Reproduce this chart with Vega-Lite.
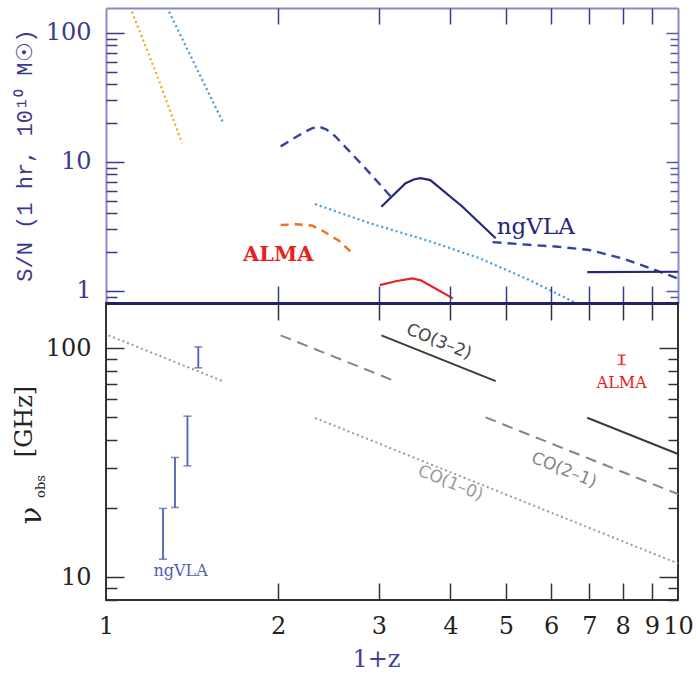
{
  "$schema": "https://vega.github.io/schema/vega-lite/v6.json",
  "background": "white",
  "padding": {"left": 10, "top": 7, "right": 16, "bottom": 2},
  "spacing": 0,
  "bounds": "flush",
  "config": {"font": "DejaVu Serif", "view": {"stroke": null}, "axis": {"grid": false, "labelOverlap": false, "labelFlush": false, "tickWidth": 1.5}},
  "datasets": {
    "top": [
      {"s": "ALMA CO(1-0)", "x": 1.11, "y": 146},
      {"s": "ALMA CO(1-0)", "x": 1.23, "y": 46},
      {"s": "ALMA CO(1-0)", "x": 1.358, "y": 14.0},
      {"s": "ngVLA CO(1-0) a", "x": 1.289, "y": 146},
      {"s": "ngVLA CO(1-0) a", "x": 1.602, "y": 20.2},
      {"s": "ngVLA CO(2-1) a", "x": 2.02, "y": 13.2},
      {"s": "ngVLA CO(2-1) a", "x": 2.204, "y": 16.7},
      {"s": "ngVLA CO(2-1) a", "x": 2.29, "y": 18.2},
      {"s": "ngVLA CO(2-1) a", "x": 2.357, "y": 18.8},
      {"s": "ngVLA CO(2-1) a", "x": 2.43, "y": 17.8},
      {"s": "ngVLA CO(2-1) a", "x": 2.52, "y": 15.7},
      {"s": "ngVLA CO(2-1) a", "x": 2.83, "y": 9.1},
      {"s": "ngVLA CO(2-1) a", "x": 3.17, "y": 5.2},
      {"s": "ngVLA CO(3-2) a", "x": 3.03, "y": 4.5},
      {"s": "ngVLA CO(3-2) a", "x": 3.34, "y": 6.84},
      {"s": "ngVLA CO(3-2) a", "x": 3.46, "y": 7.35},
      {"s": "ngVLA CO(3-2) a", "x": 3.55, "y": 7.48},
      {"s": "ngVLA CO(3-2) a", "x": 3.69, "y": 7.24},
      {"s": "ngVLA CO(3-2) a", "x": 4.2, "y": 4.5},
      {"s": "ngVLA CO(3-2) a", "x": 4.8, "y": 2.56},
      {"s": "ngVLA CO(2-1) b", "x": 4.74, "y": 2.39},
      {"s": "ngVLA CO(2-1) b", "x": 5.34, "y": 2.3},
      {"s": "ngVLA CO(2-1) b", "x": 6.11, "y": 2.21},
      {"s": "ngVLA CO(2-1) b", "x": 6.99, "y": 2.08},
      {"s": "ngVLA CO(2-1) b", "x": 7.99, "y": 1.79},
      {"s": "ngVLA CO(2-1) b", "x": 9.13, "y": 1.45},
      {"s": "ngVLA CO(2-1) b", "x": 10, "y": 1.25},
      {"s": "ngVLA CO(3-2) b", "x": 6.94, "y": 1.4},
      {"s": "ngVLA CO(3-2) b", "x": 10, "y": 1.41},
      {"s": "ngVLA CO(1-0) b", "x": 2.32, "y": 4.72},
      {"s": "ngVLA CO(1-0) b", "x": 2.88, "y": 3.37},
      {"s": "ngVLA CO(1-0) b", "x": 3.67, "y": 2.44},
      {"s": "ngVLA CO(1-0) b", "x": 4.49, "y": 1.8},
      {"s": "ngVLA CO(1-0) b", "x": 5.49, "y": 1.22},
      {"s": "ngVLA CO(1-0) b", "x": 6.62, "y": 0.81},
      {"s": "ALMA CO(2-1)", "x": 2.02, "y": 3.25},
      {"s": "ALMA CO(2-1)", "x": 2.15, "y": 3.29},
      {"s": "ALMA CO(2-1)", "x": 2.29, "y": 3.22},
      {"s": "ALMA CO(2-1)", "x": 2.4, "y": 2.9},
      {"s": "ALMA CO(2-1)", "x": 2.555, "y": 2.45},
      {"s": "ALMA CO(2-1)", "x": 2.715, "y": 1.9},
      {"s": "ALMA CO(3-2)", "x": 3.01, "y": 1.11},
      {"s": "ALMA CO(3-2)", "x": 3.21, "y": 1.19},
      {"s": "ALMA CO(3-2)", "x": 3.43, "y": 1.25},
      {"s": "ALMA CO(3-2)", "x": 3.55, "y": 1.21},
      {"s": "ALMA CO(3-2)", "x": 3.72, "y": 1.08},
      {"s": "ALMA CO(3-2)", "x": 4.04, "y": 0.877}
    ],
    "toplab": [
      {"t": "ALMA", "x": 2.0, "y": 1.9, "inst": "ALMA"},
      {"t": "ngVLA", "x": 5.64, "y": 3.15, "inst": "ngVLA"}
    ],
    "bot": [
      {"line": "CO(1-0)", "seg": "a", "x": 1.01, "y": 114.1},
      {"line": "CO(1-0)", "seg": "a", "x": 1.609, "y": 71.6},
      {"line": "CO(1-0)", "seg": "b", "x": 2.32, "y": 49.7},
      {"line": "CO(1-0)", "seg": "b", "x": 10, "y": 11.5},
      {"line": "CO(2-1)", "seg": "a", "x": 2.02, "y": 114.1},
      {"line": "CO(2-1)", "seg": "a", "x": 3.21, "y": 71.8},
      {"line": "CO(2-1)", "seg": "b", "x": 4.61, "y": 50.0},
      {"line": "CO(2-1)", "seg": "b", "x": 10, "y": 23.1},
      {"line": "CO(3-2)", "seg": "a", "x": 3.03, "y": 114.1},
      {"line": "CO(3-2)", "seg": "a", "x": 4.8, "y": 72.0},
      {"line": "CO(3-2)", "seg": "b", "x": 6.94, "y": 49.8},
      {"line": "CO(3-2)", "seg": "b", "x": 10, "y": 34.6}
    ],
    "bars": [
      {"inst": "ngVLA", "x": 1.258, "lo": 12.0, "hi": 20.0},
      {"inst": "ngVLA", "x": 1.32, "lo": 20.2, "hi": 33.4},
      {"inst": "ngVLA", "x": 1.388, "lo": 30.7, "hi": 50.6},
      {"inst": "ngVLA", "x": 1.45, "lo": 82.3, "hi": 101.6},
      {"inst": "ALMA", "x": 7.97, "lo": 85.1, "hi": 93.5}
    ],
    "colab": [
      {"t": "CO(3–2)", "line": "CO(3-2)", "x": 3.82, "y": 106.9},
      {"t": "CO(2–1)", "line": "CO(2-1)", "x": 6.32, "y": 29.4},
      {"t": "CO(1–0)", "line": "CO(1-0)", "x": 4.0, "y": 25.8}
    ],
    "bandlab": [
      {"t": "ngVLA", "inst": "ngVLA", "x": 1.35, "y": 10.65},
      {"t": "ALMA", "inst": "ALMA", "x": 7.97, "y": 71}
    ]
  },
  "vconcat": [
    {
      "width": 572,
      "height": 295,
      "layer": [
        {
          "data": {"name": "top"},
          "transform": [{"filter": "datum.s == 'ngVLA CO(2-1) a' || datum.s == 'ngVLA CO(2-1) b'"}],
          "mark": {"type": "line", "strokeWidth": 2.4, "color": "#3344a0", "strokeDash": [9, 6]},
          "encoding": {
            "x": {"field": "x", "type": "quantitative", "scale": {"type": "log", "domain": [1, 10], "nice": false},
              "axis": {"orient": "top", "values": [2, 3, 4, 5, 6, 7, 8, 9], "labels": false, "domain": false, "ticks": true, "tickSize": 16, "offset": -16, "tickColor": "#3b3b8a", "zindex": 1, "title": null}},
            "y": {"field": "y", "type": "quantitative", "scale": {"type": "log", "domain": [0.807, 156], "nice": false},
              "axis": {"orient": "left", "values": [1, 10, 100], "ticks": false, "domain": true, "domainColor": "#8a8ac4", "domainWidth": 2, "labelPadding": 15, "labelFont": "DejaVu Serif", "labelFontSize": 24, "labelColor": "#3b3b8a",
                "title": "S/N (1 hr, 10¹⁰ M☉)", "titleFont": "Liberation Mono", "titleFontSize": 22, "titleFontWeight": "normal", "titleColor": "#3b3b8a", "titleX": -82, "titleY": 147, "titleBaseline": "middle"}},
            "detail": {"field": "s"}
          }
        },
        {
          "data": {"name": "top"},
          "transform": [{"filter": "datum.s == 'ngVLA CO(3-2) a' || datum.s == 'ngVLA CO(3-2) b'"}],
          "mark": {"type": "line", "strokeWidth": 2.2, "color": "#26267a"},
          "encoding": {
            "x": {"field": "x", "type": "quantitative",
              "axis": {"orient": "bottom", "values": [2, 3, 4, 5, 6, 7, 8, 9], "labels": false, "domain": false, "ticks": true, "tickSize": 17, "offset": -17, "tickColor": "#3b3b8a", "zindex": 1, "title": null}},
            "y": {"field": "y", "type": "quantitative",
              "axis": {"orient": "left", "values": [1, 10, 100], "labels": false, "domain": false, "ticks": true, "tickSize": 18, "offset": -18, "tickColor": "#3b3b8a", "zindex": 1, "title": null}},
            "detail": {"field": "s"}
          }
        },
        {
          "data": {"name": "top"},
          "transform": [{"filter": "datum.s == 'ngVLA CO(1-0) a' || datum.s == 'ngVLA CO(1-0) b'"}],
          "mark": {"type": "line", "strokeWidth": 2.2, "color": "#4499dd", "strokeDash": [2, 3]},
          "encoding": {
            "x": {"field": "x", "type": "quantitative",
              "axis": {"orient": "top", "ticks": false, "labels": false, "domain": true, "domainColor": "#8a8ac4", "domainWidth": 2, "title": null}},
            "y": {"field": "y", "type": "quantitative",
              "axis": {"orient": "left", "values": [0.9, 2, 3, 4, 5, 6, 7, 8, 9, 20, 30, 40, 50, 60, 70, 80, 90], "labels": false, "domain": false, "ticks": true, "tickSize": 11, "offset": -11, "tickColor": "#3b3b8a", "zindex": 1, "title": null}},
            "detail": {"field": "s"}
          }
        },
        {
          "data": {"name": "top"},
          "transform": [{"filter": "datum.s == 'ALMA CO(1-0)'"}],
          "mark": {"type": "line", "strokeWidth": 2.2, "color": "#f5a623", "strokeDash": [2, 3]},
          "encoding": {
            "x": {"field": "x", "type": "quantitative", "axis": null},
            "y": {"field": "y", "type": "quantitative",
              "axis": {"orient": "right", "values": [1, 10, 100], "labels": false, "domain": false, "ticks": true, "tickSize": 12, "offset": -12, "tickColor": "#5a5aa4", "zindex": 1, "title": null}}
          }
        },
        {
          "data": {"name": "top"},
          "transform": [{"filter": "datum.s == 'ALMA CO(2-1)'"}],
          "mark": {"type": "line", "strokeWidth": 2.4, "color": "#f07020", "strokeDash": [8, 6]},
          "encoding": {
            "x": {"field": "x", "type": "quantitative", "axis": null},
            "y": {"field": "y", "type": "quantitative",
              "axis": {"orient": "right", "values": [0.9, 2, 3, 4, 5, 6, 7, 8, 9, 20, 30, 40, 50, 60, 70, 80, 90], "labels": false, "domain": false, "ticks": true, "tickSize": 8, "offset": -8, "tickColor": "#5a5aa4", "zindex": 1, "title": null}}
          }
        },
        {
          "data": {"name": "top"},
          "transform": [{"filter": "datum.s == 'ALMA CO(3-2)'"}],
          "mark": {"type": "line", "strokeWidth": 2.2, "color": "#ee2020"},
          "encoding": {
            "x": {"field": "x", "type": "quantitative", "axis": null},
            "y": {"field": "y", "type": "quantitative",
              "axis": {"orient": "right", "ticks": false, "labels": false, "domain": true, "domainColor": "#8a8ac4", "domainWidth": 2, "title": null}}
          }
        },
        {
          "data": {"name": "toplab"},
          "transform": [{"filter": "datum.inst == 'ALMA'"}],
          "mark": {"type": "text", "font": "DejaVu Serif", "fontWeight": "bold", "fontSize": 21, "color": "#e82020", "align": "center", "baseline": "middle"},
          "encoding": {
            "x": {"field": "x", "type": "quantitative", "axis": null},
            "y": {"field": "y", "type": "quantitative", "axis": null},
            "text": {"field": "t"}
          }
        },
        {
          "data": {"name": "toplab"},
          "transform": [{"filter": "datum.inst == 'ngVLA'"}],
          "mark": {"type": "text", "font": "DejaVu Serif", "fontSize": 23, "color": "#26267a", "align": "center", "baseline": "middle"},
          "encoding": {
            "x": {"field": "x", "type": "quantitative", "axis": null},
            "y": {"field": "y", "type": "quantitative", "axis": null},
            "text": {"field": "t"}
          }
        }
      ],
      "resolve": {"axis": {"x": "independent", "y": "independent"}}
    },
    {
      "width": 572,
      "height": 297,
      "view": {"stroke": "#333333", "strokeWidth": 2},
      "layer": [
        {
          "data": {"name": "bot"},
          "transform": [{"filter": "datum.line == 'CO(1-0)'"}],
          "mark": {"type": "line", "strokeWidth": 2, "color": "#9a9a9a", "strokeDash": [2, 3]},
          "encoding": {
            "x": {"field": "x", "type": "quantitative", "scale": {"type": "log", "domain": [1, 10], "nice": false},
              "axis": {"orient": "bottom", "values": [1, 2, 3, 4, 5, 6, 7, 8, 9, 10], "ticks": false, "domain": false, "labelPadding": 14, "labelFont": "DejaVu Serif", "labelFontSize": 24, "labelColor": "#222222",
                "title": "1+z", "titleFont": "DejaVu Serif", "titleFontSize": 24, "titleFontWeight": "normal", "titleColor": "#4040a0", "titleX": 270, "titlePadding": 9}},
            "y": {"field": "y", "type": "quantitative", "scale": {"type": "log", "domain": [7.96, 158], "nice": false},
              "axis": {"orient": "left", "values": [10, 100], "ticks": false, "domain": false, "labelPadding": 15, "labelFont": "DejaVu Serif", "labelFontSize": 24, "labelColor": "#222222",
                "title": "[GHz]", "titleFont": "DejaVu Serif", "titleFontSize": 24, "titleFontWeight": "normal", "titleColor": "#222222", "titleX": -82, "titleY": 118, "titleBaseline": "middle"}},
            "detail": {"field": "seg"}
          }
        },
        {
          "data": {"name": "bot"},
          "transform": [{"filter": "datum.line == 'CO(2-1)'"}],
          "mark": {"type": "line", "strokeWidth": 2, "color": "#858585", "strokeDash": [11, 7]},
          "encoding": {
            "x": {"field": "x", "type": "quantitative",
              "axis": {"orient": "bottom", "values": [2, 3, 4, 5, 6, 7, 8, 9], "labels": false, "domain": false, "ticks": true, "tickSize": 17, "offset": -17, "tickColor": "#333333", "zindex": 1, "title": null}},
            "y": {"field": "y", "type": "quantitative",
              "axis": {"orient": "left", "values": [10, 100], "labels": false, "domain": false, "ticks": true, "tickSize": 18, "offset": -18, "tickColor": "#333333", "zindex": 1, "title": null}},
            "detail": {"field": "seg"}
          }
        },
        {
          "data": {"name": "bot"},
          "transform": [{"filter": "datum.line == 'CO(3-2)'"}],
          "mark": {"type": "line", "strokeWidth": 2, "color": "#3c3c3c"},
          "encoding": {
            "x": {"field": "x", "type": "quantitative",
              "axis": {"orient": "top", "values": [2, 3, 4, 5, 6, 7, 8, 9], "labels": false, "domain": false, "ticks": true, "tickSize": 17, "offset": -17, "tickColor": "#333333", "zindex": 1, "title": null}},
            "y": {"field": "y", "type": "quantitative",
              "axis": {"orient": "left", "values": [8, 9, 20, 30, 40, 50, 60, 70, 80, 90], "labels": false, "domain": false, "ticks": true, "tickSize": 11, "offset": -11, "tickColor": "#333333", "zindex": 1, "title": null}},
            "detail": {"field": "seg"}
          }
        },
        {
          "data": {"name": "bars"},
          "mark": {"type": "rule", "strokeWidth": 1.8},
          "encoding": {
            "x": {"field": "x", "type": "quantitative",
              "axis": {"orient": "top", "ticks": false, "labels": false, "domain": true, "domainColor": "#222266", "domainWidth": 3, "zindex": 2, "title": null}},
            "y": {"field": "lo", "type": "quantitative",
              "axis": {"orient": "right", "values": [10, 100], "labels": false, "domain": false, "ticks": true, "tickSize": 19, "offset": -19, "tickColor": "#333333", "zindex": 1, "title": null}},
            "y2": {"field": "hi"},
            "color": {"field": "inst", "type": "nominal", "legend": null,
              "scale": {"domain": ["ngVLA", "ALMA", "CO(1-0)", "CO(2-1)", "CO(3-2)"], "range": ["#4f5fb5", "#e82020", "#9a9a9a", "#858585", "#444444"]}}
          }
        },
        {
          "data": {"name": "bars"},
          "mark": {"type": "point", "shape": "stroke", "size": 64, "strokeWidth": 1.6, "filled": false},
          "encoding": {
            "x": {"field": "x", "type": "quantitative", "axis": null},
            "y": {"field": "hi", "type": "quantitative",
              "axis": {"orient": "right", "values": [8, 9, 20, 30, 40, 50, 60, 70, 80, 90], "labels": false, "domain": false, "ticks": true, "tickSize": 10, "offset": -10, "tickColor": "#333333", "zindex": 1, "title": null}},
            "color": {"field": "inst", "type": "nominal", "legend": null}
          }
        },
        {
          "data": {"name": "bars"},
          "mark": {"type": "point", "shape": "stroke", "size": 64, "strokeWidth": 1.6, "filled": false},
          "encoding": {
            "x": {"field": "x", "type": "quantitative", "axis": null},
            "y": {"field": "lo", "type": "quantitative", "axis": null},
            "color": {"field": "inst", "type": "nominal", "legend": null}
          }
        },
        {
          "data": {"name": "colab"},
          "mark": {"type": "text", "font": "DejaVu Sans", "fontSize": 17, "angle": 22, "align": "center", "baseline": "middle"},
          "encoding": {
            "x": {"field": "x", "type": "quantitative", "axis": null},
            "y": {"field": "y", "type": "quantitative",
              "axis": {"orient": "left", "ticks": false, "labels": false, "domain": false,
                "title": "ν", "titleFont": "DejaVu Serif", "titleFontSize": 29, "titleFontWeight": "normal", "titleColor": "#222222", "titleX": -75, "titleY": 212, "titleBaseline": "middle"}},
            "text": {"field": "t"},
            "color": {"field": "line", "type": "nominal", "legend": null}
          }
        },
        {
          "data": {"name": "bandlab"},
          "mark": {"type": "text", "font": "DejaVu Serif", "fontSize": 16, "align": "center", "baseline": "middle"},
          "encoding": {
            "x": {"field": "x", "type": "quantitative", "axis": null},
            "y": {"field": "y", "type": "quantitative",
              "axis": {"orient": "left", "ticks": false, "labels": false, "domain": false,
                "title": "obs", "titleFont": "DejaVu Serif", "titleFontSize": 13, "titleFontWeight": "normal", "titleColor": "#222222", "titleX": -66, "titleY": 183, "titleBaseline": "middle"}},
            "text": {"field": "t"},
            "color": {"field": "inst", "type": "nominal", "legend": null}
          }
        }
      ],
      "resolve": {"axis": {"x": "independent", "y": "independent"}}
    }
  ]
}
